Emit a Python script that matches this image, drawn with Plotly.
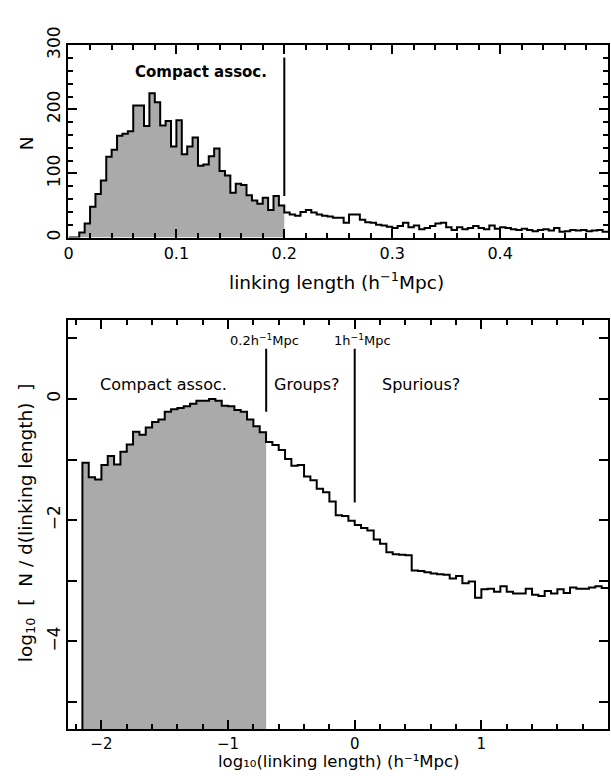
import numpy as np
import plotly.graph_objects as go

# ---------------- data ----------------
# Top panel: histogram of linking length (h^-1 Mpc), bins of 0.005 from 0 to 0.5
top_bin_start = 0.0
top_bin_width = 0.005
top_counts = [0, 0, 8, 22, 48, 68, 89, 126, 137, 159,
              162, 166, 206, 206, 174, 225, 211, 175, 182, 142,
              183, 130, 142, 156, 112, 114, 127, 139, 104, 97,
              70, 84, 82, 66, 58, 53, 62, 43, 65, 50,
              39, 36, 34, 40, 43, 39, 36, 34, 33, 31,
              31, 23, 36, 36, 28, 24, 23, 20, 19, 17,
              15, 18, 23, 16, 19, 13, 15, 18, 22, 23,
              16, 12, 16, 13, 15, 18, 15, 13, 19, 14,
              16, 15, 13, 12, 14, 12, 10, 12, 13, 11,
              15, 9, 10, 12, 11, 12, 10, 11, 12, 9]

# Bottom panel: log10[N / d(linking length)] vs log10(linking length), bins of 0.05 dex
bot_bin_start = -2.15
bot_bin_width = 0.05
bot_vals = [-1.05, -1.29, -1.33, -1.09, -0.94, -1.08, -0.87, -0.75, -0.54, -0.59,
            -0.47, -0.38, -0.34, -0.21, -0.17, -0.15, -0.12, -0.08, -0.03, -0.03,
            0.00, -0.03, -0.11, -0.12, -0.18, -0.21, -0.34, -0.45, -0.55, -0.71,
            -0.76, -0.84, -0.99, -1.10, -1.09, -1.28, -1.34, -1.48, -1.54, -1.69,
            -1.92, -1.93, -2.01, -2.08, -2.13, -2.17, -2.32, -2.39, -2.53, -2.56,
            -2.57, -2.58, -2.83, -2.84, -2.86, -2.88, -2.89, -2.90, -2.96, -2.92,
            -3.04, -3.01, -3.28, -3.14, -3.13, -3.18, -3.09, -3.18, -3.21, -3.21,
            -3.13, -3.23, -3.25, -3.17, -3.21, -3.14, -3.20, -3.11, -3.13, -3.13,
            -3.11, -3.09, -3.12]

compact_cut = 0.2            # h^-1 Mpc
spurious_cut = 1.0           # h^-1 Mpc

top_xticks = [0, 0.1, 0.2, 0.3, 0.4]
top_xticktext = ["0", "0.1", "0.2", "0.3", "0.4"]
top_yticks = [0, 100, 200, 300]
bot_xticks = [-2, -1, 0, 1, 2]
bot_xticktext = ["\u22122", "\u22121", "0", "1", "2"]
bot_yticks = [-5, -4, -3, -2, -1, 0, 1]
bot_yticktext = ["", "\u22124", "", "\u22122", "", "0", ""]

# ---------------- derived ----------------
top_edges = np.round(top_bin_start + top_bin_width * np.arange(len(top_counts) + 1), 6)
bot_edges = np.round(bot_bin_start + bot_bin_width * np.arange(len(bot_vals) + 1), 6)
log_cut = np.log10(compact_cut)

GREY = "#aaaaaa"
FONT = "DejaVu Sans"
W, H = 611, 776

fig = go.Figure()

# --- top panel shading (bins below 0.2) ---
n_sh = int(round((compact_cut - top_bin_start) / top_bin_width))
fig.add_trace(go.Scatter(
    x=list(top_edges[:n_sh]) + [compact_cut],
    y=top_counts[:n_sh] + [top_counts[n_sh - 1]],
    mode="lines", line=dict(width=0, shape="hv"),
    fill="tozeroy", fillcolor=GREY, hoverinfo="skip",
    xaxis="x", yaxis="y", showlegend=False))
# --- top panel outline ---
fig.add_trace(go.Scatter(
    x=list(top_edges), y=top_counts + [top_counts[-1]],
    mode="lines", line=dict(color="black", width=2, shape="hv"),
    xaxis="x", yaxis="y", showlegend=False))

# --- bottom panel shading ---
m_sh = int(np.floor((log_cut - bot_bin_start) / bot_bin_width + 1e-6)) + 1
fig.add_trace(go.Scatter(
    x=[bot_bin_start, log_cut], y=[-10, -10], mode="lines",
    line=dict(width=0), hoverinfo="skip",
    xaxis="x2", yaxis="y2", showlegend=False))
fig.add_trace(go.Scatter(
    x=list(bot_edges[:m_sh]) + [log_cut],
    y=bot_vals[:m_sh] + [bot_vals[m_sh - 1]],
    mode="lines", line=dict(width=0, shape="hv"),
    fill="tonexty", fillcolor=GREY, hoverinfo="skip",
    xaxis="x2", yaxis="y2", showlegend=False))
# --- bottom panel outline ---
fig.add_trace(go.Scatter(
    x=[bot_edges[0]] + list(bot_edges), y=[-10] + bot_vals + [bot_vals[-1]],
    mode="lines", line=dict(color="black", width=2, shape="hv"),
    xaxis="x2", yaxis="y2", showlegend=False))


def px_x(p):
    return p / W


def px_y(p):
    return 1 - p / H


xdom = [px_x(64), px_x(608)]
axis_common = dict(showline=True, linecolor="black", linewidth=2, mirror="ticks",
                   ticks="inside", tickcolor="black", tickwidth=1.5, showgrid=False,
                   zeroline=False)
minor_common = dict(ticklen=5, ticks="inside", tickcolor="black", tickwidth=1.5)
xfont = dict(family=FONT, size=16, color="black")
x2font = dict(family=FONT, size=15, color="black")
yfont = dict(family=FONT, size=17, color="black")

fig.update_layout(
    width=W, height=H, margin=dict(l=0, r=0, t=0, b=0), autosize=False,
    paper_bgcolor="white", plot_bgcolor="white",
    xaxis=dict(domain=xdom, anchor="y", range=[0, 0.5], tickfont=xfont,
               tickmode="array", tickvals=top_xticks, ticktext=top_xticktext, ticklen=9,
               minor=dict(dtick=0.02, tick0=0, **minor_common), **axis_common),
    yaxis=dict(domain=[px_y(225), px_y(27)], anchor="x", range=[0, 300], tickfont=yfont,
               tickmode="array", tickvals=top_yticks, ticklen=9, tickangle=-90,
               minor=dict(dtick=20, tick0=0, **minor_common), **axis_common),
    xaxis2=dict(domain=xdom, anchor="y2", range=[-2.26, 2.0], tickfont=x2font,
                tickmode="array", tickvals=bot_xticks, ticktext=bot_xticktext, ticklen=9,
                minor=dict(dtick=0.2, tick0=0, **minor_common), **axis_common),
    yaxis2=dict(domain=[px_y(731), px_y(310)], anchor="x2", range=[-5.45, 1.3], tickfont=yfont,
                tickmode="array", tickvals=bot_yticks, ticktext=bot_yticktext, ticklen=9,
                tickangle=-90, **axis_common),
)

# marker lines
fig.add_shape(type="line", xref="x", yref="y", x0=compact_cut, x1=compact_cut, y0=65, y1=281,
              line=dict(color="black", width=2))
fig.add_shape(type="line", xref="x2", yref="y2", x0=log_cut, x1=log_cut, y0=-0.21, y1=0.83,
              line=dict(color="black", width=2))
fig.add_shape(type="line", xref="x2", yref="y2", x0=np.log10(spurious_cut), x1=np.log10(spurious_cut),
              y0=-1.71, y1=0.83, line=dict(color="black", width=2))


def txt(x, y, s, xref, yref, size=15, bold=False, angle=0, xanchor="center", yanchor="middle"):
    fig.add_annotation(x=x, y=y, xref=xref, yref=yref, text=("<b>%s</b>" % s) if bold else s,
                       showarrow=False, textangle=angle, xanchor=xanchor, yanchor=yanchor,
                       font=dict(family=FONT, size=size, color="black"))


txt(0.1225, 258, "Compact assoc.", "x", "y", size=15, bold=True)
txt(-1.51, 0.24, "Compact assoc.", "x2", "y2", size=16)
txt(-0.38, 0.24, "Groups?", "x2", "y2", size=16)
txt(0.52, 0.24, "Spurious?", "x2", "y2", size=16)
txt(-0.71, 0.98, "0.2h<sup>\u22121</sup>Mpc", "x2", "y2", size=13)
txt(0.06, 0.98, "1h<sup>\u22121</sup>Mpc", "x2", "y2", size=13)

# axis titles
txt(px_x(334), px_y(270), "linking length (h<sup>\u22121</sup>Mpc)", "paper", "paper", size=18.5)
txt(px_x(336), px_y(776), "log\u2081\u2080(linking length) (h\u207b\u00b9Mpc)", "paper", "paper",
    size=16.5, yanchor="bottom")
txt(px_x(22), px_y(128), "N", "paper", "paper", size=18.5, angle=-90)
txt(px_x(22), px_y(518), "log<sub>10</sub>\u00a0 [\u00a0 N / d(linking length) \u00a0]", "paper", "paper",
    size=18.5, angle=-90)

fig.write_html("out.html", config={"displayModeBar": False},
               post_script="document.body.style.margin='0';document.body.style.padding='0';"
                           "document.body.style.overflow='hidden';")
